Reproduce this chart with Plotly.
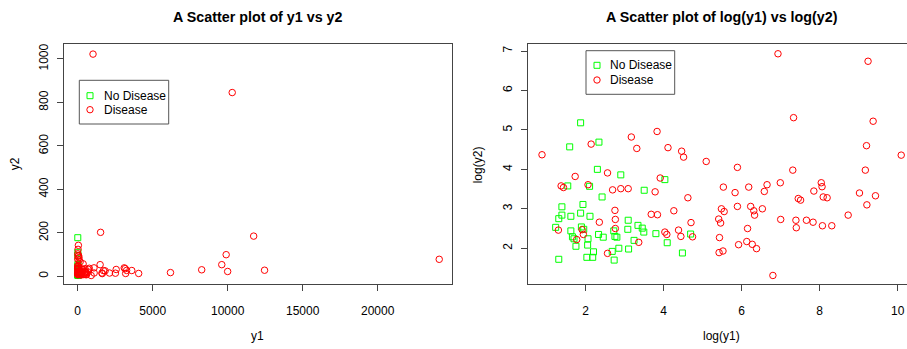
import numpy as np
import plotly.graph_objects as go

# log-scale readings (log(y1), log(y2))
nd_log_y1 = [1.87, 1.59, 2.34, 2.30, 2.90, 1.54, 2.10, 4.03, 2.42, 3.50,
             1.39, 1.93, 1.39, 1.87, 1.62, 2.11, 1.31, 1.23, 1.62, 1.89,
             1.95, 3.09, 3.34, 3.08, 3.45, 3.49, 2.33, 1.66, 1.70, 2.45,
             2.75, 2.80, 2.72, 3.80, 4.69, 2.06, 3.24, 4.09, 1.75, 2.05,
             2.20, 2.85, 3.10, 2.68, 2.03, 2.18, 1.31, 2.73, 4.48]
nd_log_y2 = [5.18, 4.57, 4.69, 4.00, 3.86, 3.58, 3.57, 3.74, 3.30, 3.47,
             3.05, 3.11, 2.84, 2.89, 2.81, 2.81, 2.75, 2.53, 2.44, 2.54,
             2.48, 2.71, 2.58, 2.48, 2.51, 2.41, 2.35, 2.29, 2.24, 2.28,
             2.30, 2.28, 2.44, 2.37, 2.36, 2.24, 2.20, 2.14, 2.05, 2.08,
             1.91, 2.00, 1.98, 1.92, 1.77, 1.77, 1.72, 1.70, 1.88]

d_log_y1 = [0.88, 1.37, 1.43, 1.73, 2.06, 2.14, 1.30, 1.77, 1.91, 1.94,
            2.35, 2.56, 2.56, 2.69, 2.75, 2.76, 2.76, 2.90, 3.09, 3.17,
            3.31, 3.36, 3.68, 3.84, 3.78, 3.83, 3.91, 4.03, 4.08, 4.11,
            4.26, 4.38, 4.44, 4.46, 4.51, 4.62, 4.70, 4.74, 5.09, 5.41,
            5.46, 5.43, 5.42, 5.52, 5.48, 5.55, 5.53, 5.83, 5.89, 5.89,
            5.92, 6.13, 6.15, 6.18, 6.23, 6.27, 6.31, 6.33, 6.38, 6.53,
            6.58, 6.65, 6.80, 6.93, 6.99, 7.00, 7.31, 7.33, 7.39, 7.40,
            7.45, 7.51, 7.66, 7.83, 7.85, 8.04, 8.06, 8.09, 8.19, 8.07,
            8.31, 8.73, 9.02, 9.17, 9.20, 9.21, 9.24, 9.37, 9.43, 10.09]
d_log_y2 = [4.37, 3.58, 3.54, 3.82, 3.61, 4.64, 2.46, 2.22, 2.47, 2.35,
            2.66, 3.91, 1.87, 3.48, 2.96, 2.73, 2.50, 3.51, 3.51, 4.82,
            4.53, 2.15, 2.86, 2.85, 3.43, 4.96, 3.78, 2.41, 2.35, 4.55,
            2.95, 2.46, 2.30, 4.46, 4.31, 3.28, 2.65, 2.29, 4.20, 2.74,
            2.64, 2.27, 1.89, 1.93, 3.00, 2.93, 3.55, 3.41, 4.05, 3.06,
            2.09, 2.17, 2.50, 3.55, 3.06, 2.10, 2.95, 2.84, 1.99, 3.00,
            3.44, 3.61, 1.31, 6.93, 3.66, 2.73, 3.98, 5.31, 2.71, 2.52,
            3.26, 3.22, 2.71, 2.66, 3.45, 3.66, 3.56, 3.30, 3.28, 2.57,
            2.57, 2.84, 3.40, 3.98, 4.60, 3.10, 6.74, 5.22, 3.33, 4.36]

# raw values
nd_y1 = np.exp(nd_log_y1)
nd_y2 = np.exp(nd_log_y2)
d_y1 = np.exp(d_log_y1)
d_y2 = np.exp(d_log_y2)

left_xticks = [0, 5000, 10000, 15000, 20000]
left_yticks = [0, 200, 400, 600, 800, 1000]
right_xticks = [2, 4, 6, 8, 10]
right_yticks = [2, 3, 4, 5, 6, 7]
legend_labels = ["No Disease", "Disease"]

W, H = 907, 349
FONT = "Liberation Sans, Arial, Helvetica, sans-serif"
GREEN = "#00ff00"
RED = "#ff0000"
FRAME = "#444444"


def px(x):
    return x / W


def py(y):
    return 1 - y / H


fig = go.Figure()

sq = dict(symbol="square-open", size=6, color=GREEN, line=dict(width=1, color=GREEN))
ci = dict(symbol="circle-open", size=6.5, color=RED, line=dict(width=1, color=RED))

fig.add_trace(go.Scatter(x=nd_y1, y=nd_y2, mode="markers", marker=sq,
                         xaxis="x", yaxis="y", showlegend=False))
fig.add_trace(go.Scatter(x=d_y1, y=d_y2, mode="markers", marker=ci,
                         xaxis="x", yaxis="y", showlegend=False))
fig.add_trace(go.Scatter(x=nd_log_y1, y=nd_log_y2, mode="markers", marker=sq,
                         xaxis="x2", yaxis="y2", showlegend=False))
fig.add_trace(go.Scatter(x=d_log_y1, y=d_log_y2, mode="markers", marker=ci,
                         xaxis="x2", yaxis="y2", showlegend=False))

ydom = [py(284.3), py(44.3)]
axis_common = dict(showgrid=False, zeroline=False, showline=True, linecolor=FRAME,
                   linewidth=1, ticks="outside", ticklen=6, tickcolor=FRAME,
                   tickwidth=1, tickfont=dict(family=FONT, size=12, color="black"))
xcommon = dict(axis_common, ticklabelstandoff=9)
ycommon = dict(axis_common, ticklabelstandoff=4, tickangle=-90)

fig.update_layout(
    width=W, height=H,
    margin=dict(l=0, r=0, t=0, b=0),
    paper_bgcolor="white", plot_bgcolor="white",
    font=dict(family=FONT, size=12, color="black"),
    xaxis=dict(domain=[px(63.7), px(451.7)], range=[-933, 24933],
               tickvals=left_xticks, ticktext=[str(v) for v in left_xticks],
               mirror=True, anchor="y", **xcommon),
    yaxis=dict(domain=ydom, range=[-36.8, 1067.6], tickvals=left_yticks,
               ticktext=[str(v) for v in left_yticks],
               mirror=True, anchor="x", **ycommon),
    xaxis2=dict(domain=[px(527.7), 1.0], range=[0.513, 2 + (907 - 585.7) / 39],
                tickvals=right_xticks, ticktext=[str(v) for v in right_xticks],
                mirror=True, anchor="y2", **xcommon),
    yaxis2=dict(domain=ydom, range=[1.086, 7.17], tickvals=right_yticks,
                ticktext=[str(v) for v in right_yticks],
                mirror=False, anchor="x2", **ycommon),
)

ann = []
# main titles
ann.append(dict(text="<b>A Scatter plot of y1 vs y2</b>", x=px(257.7), y=py(16.7),
                font=dict(size=14.3)))
ann.append(dict(text="<b>A Scatter plot of log(y1) vs log(y2)</b>", x=px(721.8), y=py(16.7),
                font=dict(size=14.3)))
# axis titles
ann.append(dict(text="y1", x=px(257.7), y=py(336)))
ann.append(dict(text="log(y1)", x=px(721.8), y=py(336)))
ann.append(dict(text="y2", x=px(15), y=py(164.3), textangle=-90))
ann.append(dict(text="log(y2)", x=px(478), y=py(164.3), textangle=-90))

shapes = []
# manual legends (R style)
for (bx0, bx1, by0, by1, sx, tx, r1, r2) in [
        (79.3, 168.7, 80.3, 124.0, 90.0, 101.7, 95.7, 109.7),
        (586.0, 674.7, 50.7, 94.3, 597.0, 607.7, 65.3, 80.0)]:
    shapes.append(dict(type="rect", xref="paper", yref="paper",
                       x0=px(bx0), x1=px(bx1), y0=py(by1), y1=py(by0),
                       line=dict(color="#555555", width=1), fillcolor="white"))
    shapes.append(dict(type="rect", xref="paper", yref="paper",
                       x0=px(sx - 3), x1=px(sx + 3), y0=py(r1 + 3), y1=py(r1 - 3),
                       line=dict(color=GREEN, width=1)))
    shapes.append(dict(type="circle", xref="paper", yref="paper",
                       x0=px(sx - 3.2), x1=px(sx + 3.2), y0=py(r2 + 3.2), y1=py(r2 - 3.2),
                       line=dict(color=RED, width=1)))
    ann.append(dict(text=legend_labels[0], x=px(tx), y=py(r1), xanchor="left"))
    ann.append(dict(text=legend_labels[1], x=px(tx), y=py(r2), xanchor="left"))

for a in ann:
    a.setdefault("xref", "paper")
    a.setdefault("yref", "paper")
    a.setdefault("showarrow", False)
    a.setdefault("xanchor", "center")
    a.setdefault("yanchor", "middle")
    f = a.setdefault("font", {})
    f.setdefault("family", FONT)
    f.setdefault("size", 12)
    f.setdefault("color", "black")

fig.update_layout(annotations=ann, shapes=shapes)
fig.write_html("out.html", config={"displayModeBar": False},
               post_script="document.body.style.margin='0';document.body.style.overflow='hidden';")
